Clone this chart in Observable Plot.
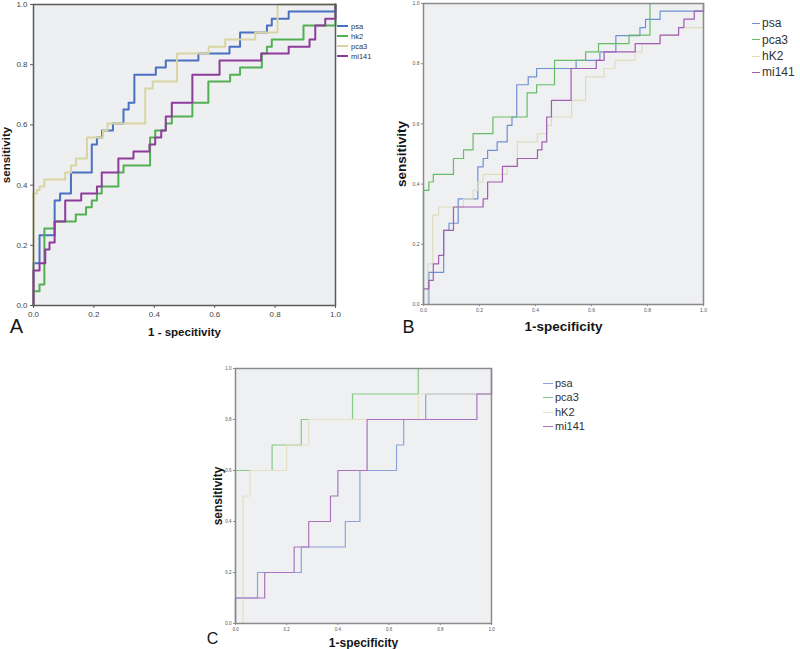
<!DOCTYPE html>
<html><head><meta charset="utf-8">
<script src="https://cdn.jsdelivr.net/npm/d3@7"></script>
<script src="https://cdn.jsdelivr.net/npm/@observablehq/plot@0.6"></script>
<style>
body{margin:0;background:#fff;font-family:"Liberation Sans",Arial,sans-serif;}
#root{position:relative;width:800px;height:649px;overflow:hidden;background:#fff;}
.panel{position:absolute;}
.lg{position:absolute;white-space:nowrap;}
.sw{position:absolute;}
</style></head><body><div id="root"></div>
<script>
// ---------- data ----------
const ticks = [0, 0.2, 0.4, 0.6, 0.8, 1];
const tickLabels = ["0.0", "0.2", "0.4", "0.6", "0.8", "1.0"];

const A_names = ["psa", "hk2", "pca3", "mi141"];
const BC_names = ["psa", "pca3", "hK2", "mi141"];

// Panel A  ([1-specificity, sensitivity] at each step)
const A_psa = [[0,0],[0,0.14],[0.02,0.233],[0.07,0.349],[0.088,0.372],[0.124,0.442],[0.193,0.535],[0.21,0.558],[0.227,0.581],[0.263,0.605],[0.298,0.651],[0.315,0.674],[0.334,0.767],[0.405,0.791],[0.438,0.814],[0.546,0.837],[0.649,0.86],[0.684,0.907],[0.773,0.93],[0.789,0.953],[0.845,0.977],[1,1]];
const A_hk2 = [[0,0],[0,0.047],[0.02,0.07],[0.036,0.256],[0.07,0.279],[0.14,0.302],[0.174,0.326],[0.193,0.349],[0.21,0.372],[0.226,0.395],[0.281,0.442],[0.298,0.465],[0.386,0.558],[0.403,0.581],[0.438,0.605],[0.458,0.628],[0.526,0.674],[0.579,0.744],[0.651,0.767],[0.684,0.791],[0.756,0.837],[0.773,0.86],[0.789,0.884],[0.894,0.93],[1,1]];
const A_pca3 = [[0,0],[0,0.372],[0.011,0.384],[0.02,0.395],[0.036,0.419],[0.105,0.442],[0.124,0.465],[0.141,0.488],[0.177,0.558],[0.23,0.581],[0.245,0.605],[0.37,0.721],[0.395,0.744],[0.475,0.837],[0.58,0.86],[0.635,0.884],[0.734,0.907],[0.808,1],[1,1]];
const A_mi141 = [[0,0],[0,0.116],[0.02,0.14],[0.039,0.186],[0.053,0.209],[0.07,0.279],[0.105,0.349],[0.158,0.372],[0.21,0.395],[0.226,0.442],[0.281,0.488],[0.331,0.512],[0.384,0.535],[0.403,0.558],[0.423,0.581],[0.438,0.628],[0.458,0.674],[0.526,0.767],[0.616,0.814],[0.754,0.837],[0.845,0.86],[0.914,0.884],[0.933,0.93],[0.966,0.953],[1,1]];

// Panel B
const B_psa = [[0.019,0],[0.019,0.107],[0.072,0.246],[0.091,0.27],[0.124,0.351],[0.194,0.457],[0.213,0.485],[0.229,0.512],[0.263,0.54],[0.299,0.595],[0.316,0.623],[0.333,0.73],[0.374,0.756],[0.404,0.784],[0.545,0.811],[0.63,0.839],[0.687,0.893],[0.773,0.92],[0.793,0.947],[0.845,0.975],[1,1]];
const B_pca3 = [[0,0],[0,0.379],[0.019,0.407],[0.035,0.432],[0.107,0.485],[0.143,0.514],[0.177,0.568],[0.248,0.623],[0.37,0.703],[0.404,0.73],[0.468,0.811],[0.579,0.839],[0.625,0.867],[0.734,0.895],[0.809,1],[1,1]];
const B_hK2 = [[0.015,0],[0.015,0.135],[0.033,0.297],[0.054,0.324],[0.143,0.351],[0.177,0.379],[0.194,0.407],[0.213,0.432],[0.299,0.459],[0.335,0.54],[0.407,0.568],[0.44,0.595],[0.457,0.623],[0.529,0.678],[0.579,0.756],[0.645,0.784],[0.684,0.811],[0.756,0.839],[0.78,0.867],[0.845,0.895],[0.911,0.92],[1,1]];
const B_mi141 = [[0,0],[0,0.052],[0.019,0.08],[0.035,0.135],[0.054,0.163],[0.072,0.246],[0.107,0.324],[0.213,0.351],[0.229,0.407],[0.282,0.459],[0.335,0.485],[0.407,0.514],[0.423,0.54],[0.44,0.623],[0.457,0.678],[0.527,0.784],[0.617,0.811],[0.645,0.839],[0.756,0.867],[0.845,0.895],[0.911,0.92],[0.93,0.948],[0.967,0.975],[1,1]];

// Panel C
const C_psa = [[0,0],[0,0.1],[0.086,0.2],[0.257,0.3],[0.429,0.4],[0.486,0.6],[0.629,0.7],[0.657,0.8],[0.743,0.9],[1,1]];
const C_pca3 = [[0,0],[0,0.6],[0.143,0.7],[0.257,0.8],[0.457,0.9],[0.714,1],[1,1]];
const C_hK2 = [[0.029,0],[0.029,0.5],[0.057,0.6],[0.2,0.7],[0.286,0.8],[0.714,0.9],[1,1]];
const C_mi141 = [[0,0],[0,0.1],[0.114,0.2],[0.229,0.3],[0.286,0.4],[0.371,0.5],[0.4,0.6],[0.514,0.8],[0.943,0.9],[1,1]];

// ---------- drawing ----------
const root = document.getElementById("root");

function panel(cfg) {
  const marks = [
    Plot.frame({fill: cfg.bg, stroke: null}),
    ...cfg.series.map((pts, i) => Plot.line(pts, {
      x: d => d[0], y: d => d[1], stroke: cfg.colors[i],
      strokeWidth: cfg.lw, curve: "step-after"
    })),
    Plot.frame({stroke: cfg.frame, strokeWidth: cfg.frameW}),
    Plot.axisX(ticks, {tickFormat: d => tickLabels[ticks.indexOf(d)], fontSize: cfg.tickFont,
      tickSize: cfg.tickSize, tickPadding: cfg.tickPad, stroke: cfg.frame, fill: cfg.tickColor, label: null}),
    Plot.axisY(ticks, {tickFormat: d => tickLabels[ticks.indexOf(d)], fontSize: cfg.tickFont,
      tickSize: cfg.tickSize, tickPadding: cfg.tickPad, stroke: cfg.frame, fill: cfg.tickColor, label: null}),
    Plot.text([cfg.xLabel], {frameAnchor: "bottom", textAnchor: "middle", lineAnchor: "middle",
      dy: cfg.xLabelDy, fontWeight: "bold", fontSize: cfg.labelFont, fill: "#151515"}),
    Plot.text([cfg.yLabel], {frameAnchor: "left", textAnchor: "middle", lineAnchor: "middle",
      dx: cfg.yLabelDx, rotate: -90, fontWeight: "bold", fontSize: cfg.labelFont, fill: "#151515"}),
    Plot.text([cfg.letter], {frameAnchor: "bottom-left", textAnchor: "middle", lineAnchor: "middle",
      dx: cfg.letterDx, dy: cfg.letterDy, fontSize: cfg.letterFont, fill: "#151515"})
  ];
  const svg = Plot.plot({
    width: cfg.width, height: cfg.height,
    marginLeft: cfg.ml, marginRight: cfg.mr, marginTop: cfg.mt, marginBottom: cfg.mb,
    x: {domain: [0, 1]}, y: {domain: [0, 1]},
    style: {background: "transparent", fontFamily: "'Liberation Sans', Arial, sans-serif", overflow: "visible"},
    marks
  });
  const div = document.createElement("div");
  div.className = "panel";
  div.style.left = cfg.left + "px";
  div.style.top = cfg.top + "px";
  div.appendChild(svg);
  root.appendChild(div);
}

function legend(cfg) {
  cfg.names.forEach((name, i) => {
    const cy = cfg.y + i * cfg.gap;
    const sw = document.createElement("div");
    sw.className = "sw";
    sw.style.left = cfg.x + "px";
    sw.style.top = (cy - cfg.lw / 2) + "px";
    sw.style.width = cfg.sw + "px";
    sw.style.height = cfg.lw + "px";
    sw.style.background = cfg.colors[i];
    root.appendChild(sw);
    const t = document.createElement("div");
    t.className = "lg";
    t.textContent = name;
    t.style.left = (cfg.x + cfg.sw + cfg.tg) + "px";
    t.style.top = (cy - cfg.font * 0.6) + "px";
    t.style.fontSize = cfg.font + "px";
    t.style.lineHeight = (cfg.font * 1.2) + "px";
    t.style.color = cfg.color;
    root.appendChild(t);
  });
}

const A_colors = ["#4a70c4", "#52b052", "#d8d5a2", "#8c3c9a"];
const B_colors = ["#7190d4", "#66bd66", "#e0ddbc", "#a25cb2"];
const C_colors = ["#8ea2da", "#86c886", "#e3e0c4", "#ad72bd"];

panel({
  left: 0, top: 0, width: 380, height: 340, ml: 33, mr: 45, mt: 4, mb: 35,
  series: [A_psa, A_hk2, A_pca3, A_mi141], colors: A_colors, lw: 2,
  bg: "#eeeff1", frame: "#5a5a5a", frameW: 1.5, tickFont: 8, tickSize: 3, tickPad: 3, tickColor: "#444",
  xLabel: "1 - specitivity", yLabel: "sensitivity", labelFont: 11.5, xLabelDy: 27, yLabelDx: -27,
  letter: "A", letterFont: 20, letterDx: -17, letterDy: 21
});
legend({names: A_names, colors: A_colors, x: 337, y: 26, gap: 10, sw: 11, lw: 2, tg: 3, font: 7.5, color: "#333"});

panel({
  left: 380, top: 0, width: 420, height: 340, ml: 43, mr: 97, mt: 3, mb: 36,
  series: [B_psa, B_pca3, B_hK2, B_mi141], colors: B_colors, lw: 1.2,
  bg: "#eff0f2", frame: "#8a8a8a", frameW: 1.5, tickFont: 5, tickSize: 2, tickPad: 2, tickColor: "#555",
  xLabel: "1-specificity", yLabel: "sensitivity", labelFont: 13.5, xLabelDy: 22, yLabelDx: -22,
  letter: "B", letterFont: 18, letterDx: -15, letterDy: 23
});
legend({names: BC_names, colors: B_colors, x: 752, y: 23.3, gap: 16.4, sw: 8, lw: 1.2, tg: 2, font: 12, color: "#333"});

panel({
  left: 180, top: 340, width: 420, height: 309, ml: 55, mr: 109, mt: 28, mb: 26,
  series: [C_psa, C_pca3, C_hK2, C_mi141], colors: C_colors, lw: 1.2,
  bg: "#eff0f2", frame: "#8a8a8a", frameW: 1.5, tickFont: 4.5, tickSize: 2, tickPad: 2, tickColor: "#555",
  xLabel: "1-specificity", yLabel: "sensitivity", labelFont: 12, xLabelDy: 20, yLabelDx: -17.5,
  letter: "C", letterFont: 16, letterDx: -23, letterDy: 15
});
legend({names: BC_names, colors: C_colors, x: 543, y: 383.3, gap: 14.5, sw: 10, lw: 1.2, tg: 2, font: 11, color: "#333"});
</script>
</body></html>
